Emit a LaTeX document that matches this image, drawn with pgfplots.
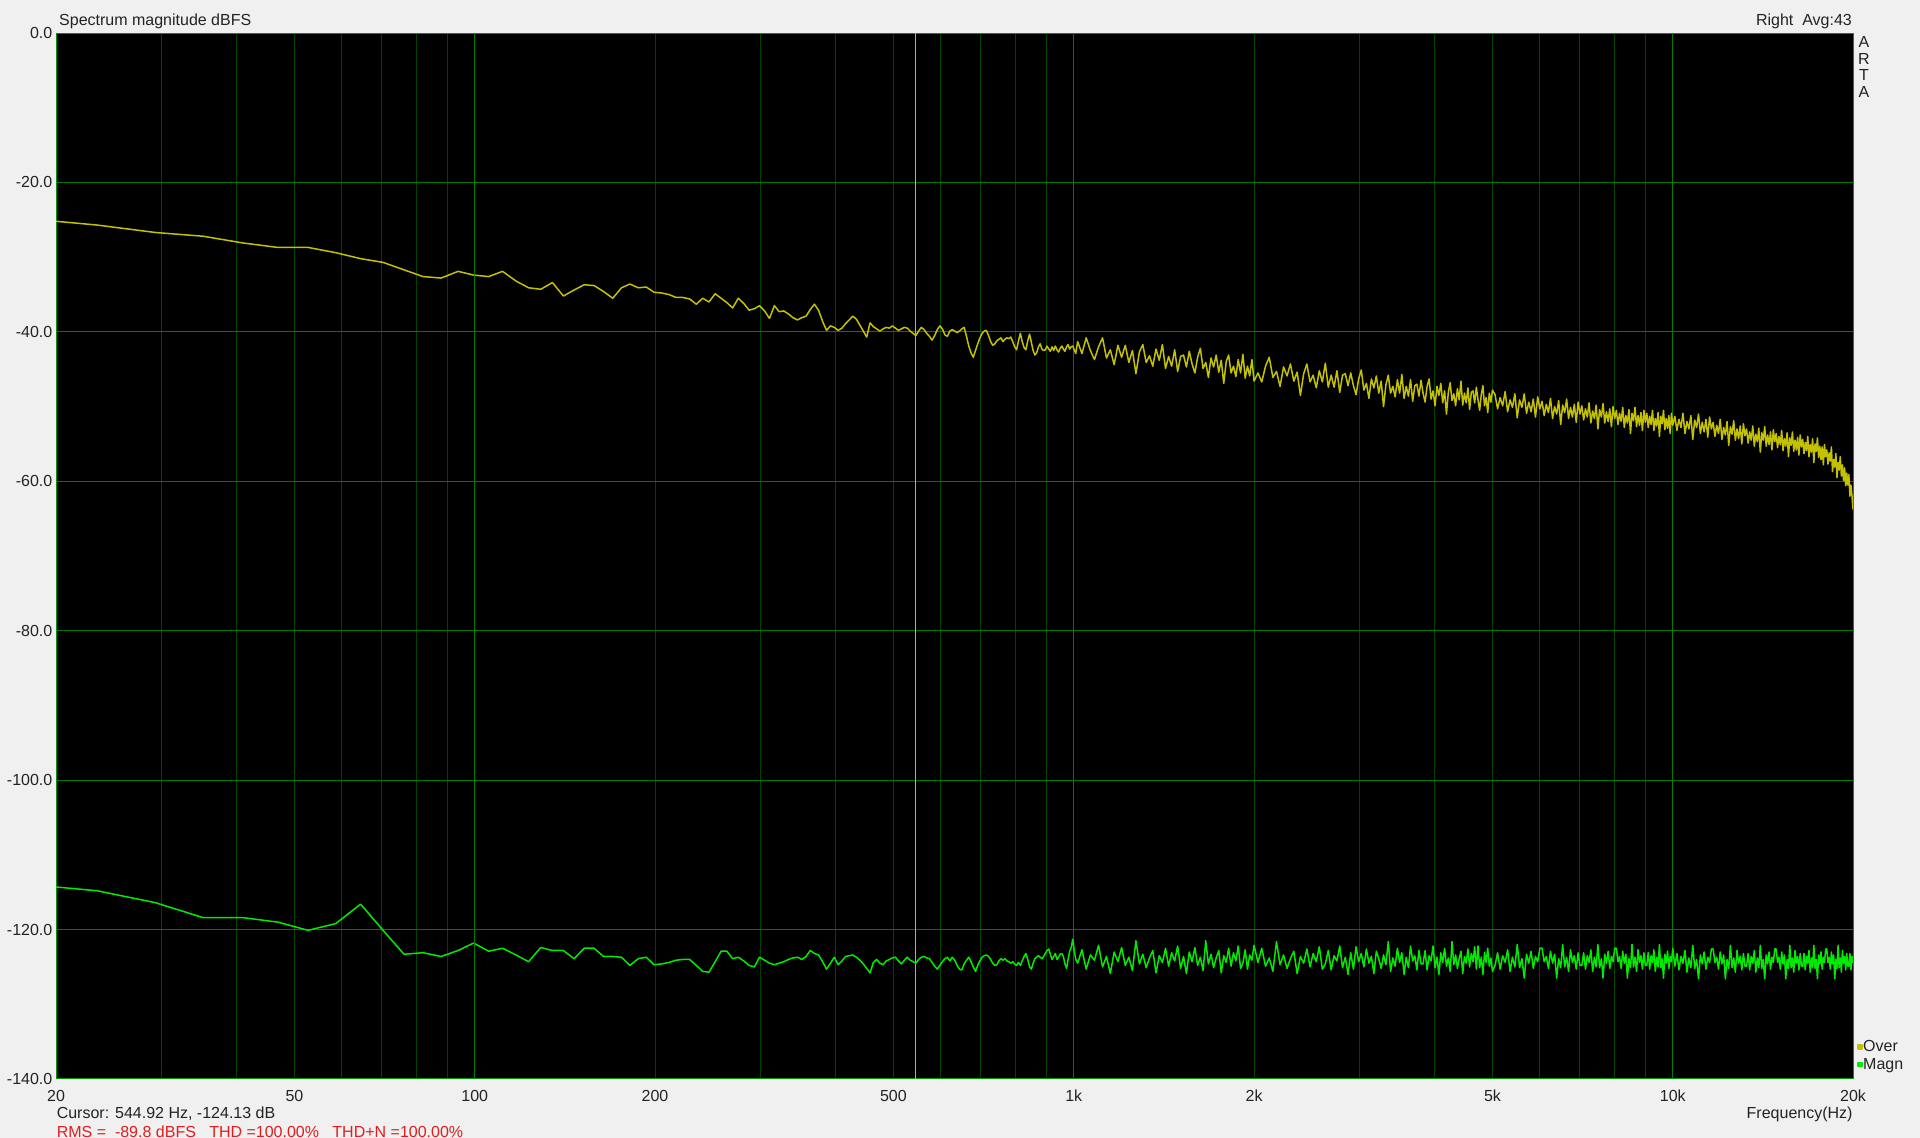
\documentclass[border=0pt]{standalone}
\usepackage{fontspec}
\setmainfont{Liberation Sans}
\usepackage{pgfplots}
\usepackage{pgfplotstable}
\pgfplotsset{compat=1.18}
\definecolor{bgc}{RGB}{240,240,240}
\definecolor{gridbright}{RGB}{0,125,0}
\definecolor{griddim}{RGB}{0,68,0}
\definecolor{framec}{RGB}{0,150,0}
\definecolor{overc}{RGB}{195,193,0}
\definecolor{magnc}{RGB}{0,235,0}
\definecolor{txt}{RGB}{35,35,35}
\definecolor{rmsred}{RGB}{225,30,30}
\pgfplotstableread{
f o m
20 -25.2 -114.3
23.4 -25.7 -114.8
29.3 -26.7 -116.4
35.2 -27.2 -118.4
41.0 -28.1 -118.4
46.9 -28.7 -119.0
52.7 -28.7 -120.1
58.6 -29.4 -119.2
64.5 -30.2 -116.6
70.3 -30.7 -120.1
76.2 -31.7 -123.3
82.0 -32.6 -123.1
87.9 -32.8 -123.6
93.8 -31.9 -122.8
99.6 -32.4 -121.8
105.5 -32.6 -122.9
111.3 -31.9 -122.5
117.2 -33.2 -123.4
123.0 -34.1 -124.3
128.9 -34.3 -122.4
134.8 -33.4 -122.8
140.6 -35.2 -122.8
146.5 -34.4 -123.9
152.3 -33.7 -122.5
158.2 -33.8 -122.5
164.1 -34.6 -123.6
170.0 -35.5 -123.6
175.8 -34.1 -123.7
181.6 -33.6 -124.8
187.5 -34.1 -123.9
193.4 -34.0 -123.7
199.2 -34.7 -124.7
205.1 -34.8 -124.6
210.9 -35.0 -124.4
216.8 -35.4 -124.1
222.7 -35.4 -124.0
228.5 -35.6 -124.0
234.4 -36.3 -124.8
240.2 -35.5 -125.6
246.1 -36.0 -125.7
252.0 -34.9 -124.3
257.8 -35.5 -122.9
263.7 -36.1 -122.9
269.5 -36.8 -123.9
275.4 -35.5 -123.7
281.3 -36.2 -124.2
287.1 -37.1 -124.8
293.0 -36.9 -125.0
298.8 -36.5 -123.7
304.7 -37.2 -124.1
310.5 -38.2 -124.5
316.4 -36.5 -124.7
322.3 -37.3 -124.5
328.1 -37.2 -124.3
334.0 -37.6 -124.0
339.8 -38.1 -123.8
345.7 -38.4 -123.7
351.6 -38.1 -124.0
357.4 -37.9 -123.6
363.3 -37.0 -122.8
369.1 -36.3 -123.2
375.0 -37.1 -123.4
380.9 -38.6 -124.3
386.7 -39.8 -125.3
392.6 -39.2 -124.5
398.4 -39.4 -123.7
404.3 -39.8 -124.7
410.2 -39.5 -124.2
416.0 -38.9 -123.6
421.9 -38.4 -123.5
427.7 -37.9 -123.4
433.6 -38.3 -123.7
439.5 -39.1 -124.1
445.3 -39.9 -124.6
451.2 -40.7 -125.2
457.0 -38.8 -125.8
462.9 -39.3 -124.4
468.8 -39.6 -124.0
474.6 -39.9 -124.5
480.5 -39.6 -124.7
486.3 -39.4 -124.2
492.2 -39.5 -124.0
498.0 -39.2 -123.8
503.9 -39.5 -123.7
509.8 -39.8 -124.2
515.6 -39.6 -124.6
521.5 -39.4 -124.1
527.3 -39.5 -123.7
533.2 -39.9 -124.1
539.1 -40.2 -124.3
545.0 -40.5 -124.5
550.8 -39.9 -124.0
556.6 -39.4 -123.7
562.5 -39.7 -123.6
568.4 -40.2 -123.8
574.2 -40.6 -123.9
580.1 -41.1 -124.4
585.9 -40.5 -124.9
591.8 -39.7 -125.3
597.7 -39.2 -124.8
603.5 -39.6 -124.3
609.4 -40.4 -123.9
615.2 -40.6 -123.7
621.1 -39.9 -124.2
627.0 -39.7 -123.7
632.8 -39.9 -124.1
638.7 -40.1 -124.8
644.5 -39.9 -125.3
650.4 -39.6 -125.4
656.3 -39.4 -124.6
662.1 -40.6 -124.1
668.0 -41.9 -123.7
673.8 -42.8 -124.3
679.7 -43.4 -125.0
685.5 -42.5 -125.6
691.4 -41.6 -124.8
697.3 -40.8 -124.2
703.1 -40.2 -123.7
709.0 -39.9 -123.5
714.8 -39.8 -123.4
720.7 -40.5 -123.6
726.6 -41.3 -124.0
732.4 -41.8 -124.5
738.3 -41.6 -124.8
744.1 -41.2 -124.7
750.0 -41.0 -124.2
755.9 -40.8 -123.9
761.7 -41.3 -124.1
767.6 -41.0 -123.9
773.4 -40.8 -124.2
779.3 -40.9 -124.3
785.2 -40.7 -124.5
791.0 -41.3 -124.3
796.9 -42.0 -124.6
802.7 -42.4 -124.8
808.6 -41.2 -124.4
814.5 -40.2 -124.8
820.3 -41.3 -124.2
826.2 -42.1 -123.6
832.0 -42.4 -123.2
837.9 -41.2 -124.0
843.8 -40.3 -125.0
849.6 -41.4 -125.3
855.5 -42.5 -124.5
861.3 -43.1 -123.9
867.2 -42.8 -123.7
873.0 -42.0 -123.5
878.9 -41.6 -123.7
884.8 -42.3 -123.9
890.6 -42.5 -123.6
896.5 -42.4 -123.2
902.3 -41.9 -122.8
908.2 -42.3 -122.6
914.1 -42.6 -123.3
920.0 -42.0 -124.0
925.8 -42.5 -123.6
931.6 -41.9 -123.2
937.5 -42.4 -124.0
943.4 -42.7 -123.7
949.2 -42.2 -123.3
955.1 -41.9 -123.2
960.9 -42.3 -123.6
966.8 -42.6 -124.6
972.7 -42.0 -125.2
978.5 -41.7 -124.0
984.4 -42.3 -122.9
990.2 -42.0 -122.4
996.1 -41.9 -121.3
1001.9 -42.4 -122.8
1007.8 -42.9 -124.0
1015 -41.3 -124.5
1032 -42.9 -122.7
1049 -40.8 -125.3
1066 -42.5 -123.4
1083 -43.7 -124.1
1100 -42.0 -122.1
1117 -40.8 -125.0
1134 -43.5 -123.6
1151 -42.4 -125.9
1168 -44.4 -123.0
1185 -41.8 -124.3
1202 -43.4 -122.4
1219 -41.8 -124.8
1236 -44.1 -123.7
1253 -42.5 -125.5
1270 -45.6 -121.5
1287 -42.7 -124.6
1304 -41.7 -123.3
1321 -44.1 -125.1
1338 -43.2 -123.8
1355 -44.6 -122.8
1372 -42.3 -125.8
1389 -43.8 -123.5
1406 -41.7 -124.4
1423 -44.9 -122.5
1440 -43.3 -124.9
1457 -44.6 -123.1
1474 -42.4 -124.2
1491 -45.3 -122.2
1508 -43.3 -125.2
1525 -43.1 -123.6
1542 -44.7 -125.9
1559 -42.6 -123.0
1576 -44.3 -124.3
1593 -45.5 -122.4
1610 -43.4 -124.8
1627 -42.2 -123.7
1644 -44.9 -125.5
1661 -44.1 -121.5
1678 -46.1 -124.6
1695 -43.5 -123.3
1712 -44.7 -125.1
1729 -43.1 -123.8
1746 -45.4 -122.8
1763 -43.8 -125.8
1780 -46.9 -123.5
1797 -44.0 -124.4
1814 -43.1 -122.5
1831 -45.5 -124.9
1848 -44.6 -123.1
1865 -46.0 -124.2
1882 -43.7 -122.2
1899 -45.5 -125.2
1916 -43.0 -124.5
1933 -46.2 -122.7
1950 -44.6 -125.3
1967 -45.9 -123.4
1984 -43.7 -124.1
2000 -46.6 -122.1
2030 -45.5 -124.4
2060 -46.7 -122.5
2090 -44.6 -124.9
2120 -43.4 -123.8
2150 -46.1 -125.6
2180 -45.3 -121.6
2210 -47.3 -124.7
2240 -44.7 -123.4
2270 -45.9 -125.2
2300 -44.3 -123.9
2330 -46.6 -122.9
2360 -45.4 -125.9
2390 -48.5 -123.6
2420 -45.6 -124.5
2450 -44.3 -122.6
2480 -46.7 -125.0
2510 -45.8 -123.2
2540 -47.5 -124.3
2570 -45.2 -122.3
2600 -46.7 -125.3
2630 -44.2 -124.6
2660 -47.4 -122.8
2690 -45.8 -125.4
2720 -47.4 -123.5
2750 -45.2 -124.2
2780 -48.1 -122.2
2810 -45.8 -125.1
2840 -45.6 -123.7
2870 -47.2 -126.0
2900 -45.5 -123.1
2930 -47.2 -125.3
2960 -48.4 -122.3
2990 -46.3 -124.3
3020 -45.1 -123.2
3050 -47.8 -125.0
3080 -46.9 -122.6
3110 -48.9 -124.5
3140 -46.3 -123.6
3170 -47.5 -125.9
3200 -45.9 -122.9
3230 -48.2 -123.9
3260 -46.6 -125.2
3290 -50.0 -123.4
3320 -47.1 -124.7
3350 -45.8 -121.6
3380 -48.2 -125.6
3410 -47.3 -123.8
3440 -48.7 -124.9
3470 -46.4 -122.5
3500 -48.2 -124.4
3530 -45.7 -123.1
3560 -48.9 -126.0
3590 -47.3 -123.7
3620 -48.6 -125.1
3650 -46.4 -122.2
3680 -49.3 -124.2
3710 -47.2 -123.5
3740 -47.0 -125.4
3770 -48.6 -122.8
3800 -46.5 -124.6
3830 -48.2 -124.6
3860 -49.4 -122.8
3890 -47.3 -125.4
3920 -46.3 -123.5
3950 -49.0 -124.2
3980 -47.9 -122.2
4010 -49.9 -125.1
4040 -47.3 -123.7
4070 -48.5 -126.0
4100 -46.9 -123.1
4130 -49.5 -124.4
4160 -47.9 -122.5
4190 -51.0 -124.9
4220 -48.1 -123.8
4250 -46.8 -125.6
4280 -49.2 -121.6
4310 -48.3 -124.7
4340 -49.9 -123.4
4370 -47.6 -125.2
4400 -49.1 -123.9
4430 -46.6 -122.9
4460 -49.8 -125.9
4490 -48.2 -123.6
4520 -49.5 -124.5
4550 -47.5 -122.6
4580 -50.4 -125.0
4610 -48.1 -123.2
4640 -47.9 -124.3
4670 -49.5 -122.3
4700 -47.4 -125.3
4730 -49.1 -122.2
4760 -50.5 -125.1
4790 -48.4 -123.7
4820 -47.2 -126.0
4850 -49.9 -123.1
4880 -48.8 -124.4
4910 -50.8 -122.5
4940 -48.2 -124.9
4970 -49.4 -123.8
5000 -47.8 -125.6
5050 -48.4 -124.8
5100 -50.3 -123.1
5150 -48.8 -125.3
5200 -49.9 -123.5
5250 -48.0 -124.4
5300 -50.7 -122.7
5350 -49.1 -125.6
5400 -50.1 -123.7
5450 -48.3 -125.0
5500 -51.5 -122.0
5550 -49.1 -125.1
5600 -50.1 -123.9
5650 -48.3 -126.5
5700 -50.9 -123.3
5750 -49.4 -124.5
5800 -50.7 -122.9
5850 -49.0 -125.2
5900 -51.4 -123.6
5950 -48.7 -124.3
6000 -50.3 -122.5
6050 -49.3 -122.5
6100 -51.2 -124.3
6150 -49.7 -123.6
6200 -50.8 -125.2
6250 -48.9 -122.9
6300 -51.6 -124.5
6350 -50.0 -123.3
6400 -51.0 -126.5
6450 -49.2 -123.9
6500 -52.4 -125.1
6550 -49.8 -122.0
6600 -50.8 -125.0
6650 -49.0 -123.7
6700 -51.6 -125.6
6750 -50.1 -122.7
6800 -51.4 -124.4
6850 -49.7 -123.5
6900 -52.1 -125.3
6950 -49.4 -123.1
7000 -51.0 -124.8
7050 -49.9 -124.8
7100 -51.8 -123.1
7150 -50.3 -125.3
7200 -51.4 -123.5
7250 -49.5 -124.4
7300 -52.2 -122.7
7350 -50.6 -125.6
7400 -51.6 -123.7
7450 -49.8 -125.0
7500 -53.0 -122.0
7550 -50.4 -125.1
7600 -51.4 -123.9
7650 -49.6 -126.5
7700 -52.2 -123.3
7750 -50.7 -124.5
7800 -52.0 -122.9
7850 -50.3 -125.2
7900 -52.7 -123.6
7950 -50.0 -124.3
8000 -51.6 -122.5
8050 -50.5 -122.5
8100 -52.4 -124.3
8150 -50.9 -123.6
8200 -52.0 -125.2
8250 -50.1 -122.9
8300 -52.8 -124.5
8350 -51.2 -123.3
8400 -52.2 -126.5
8450 -50.4 -123.9
8500 -53.6 -125.1
8550 -50.9 -122.0
8600 -51.9 -125.0
8650 -50.1 -123.7
8700 -52.7 -125.6
8750 -51.2 -122.7
8800 -52.5 -124.4
8850 -50.8 -123.5
8900 -53.2 -125.3
8950 -50.5 -123.1
9000 -52.1 -124.8
9050 -50.9 -124.8
9100 -52.8 -123.1
9150 -51.3 -125.3
9200 -52.4 -123.5
9250 -50.5 -124.4
9300 -53.2 -122.7
9350 -51.6 -125.6
9400 -52.6 -123.7
9450 -50.8 -125.0
9500 -54.0 -122.0
9550 -51.3 -125.1
9600 -52.3 -123.9
9650 -50.5 -126.5
9700 -53.1 -123.3
9750 -51.6 -124.5
9800 -52.9 -122.9
9850 -51.2 -125.2
9900 -53.6 -123.6
9950 -50.9 -124.3
10000 -52.5 -122.5
10080 -51.3 -124.9
10160 -53.2 -123.2
10240 -51.7 -125.4
10320 -52.8 -123.6
10400 -50.9 -124.5
10480 -53.6 -122.8
10560 -52.0 -125.7
10640 -53.0 -123.8
10720 -51.2 -125.1
10800 -54.4 -122.1
10880 -51.8 -125.2
10960 -52.8 -124.0
11040 -51.0 -126.6
11120 -53.6 -123.4
11200 -52.1 -124.6
11280 -53.4 -123.0
11360 -51.7 -125.3
11440 -54.1 -123.7
11520 -51.4 -124.4
11600 -53.0 -122.6
11680 -52.1 -122.6
11760 -54.0 -124.4
11840 -52.5 -123.7
11920 -53.6 -125.3
12000 -51.7 -123.0
12080 -54.4 -124.6
12160 -52.8 -123.4
12240 -53.8 -126.6
12320 -52.0 -124.0
12400 -55.2 -125.2
12480 -52.7 -122.1
12560 -53.7 -125.1
12640 -51.9 -123.8
12720 -54.5 -125.7
12800 -53.0 -122.8
12880 -54.3 -124.5
12960 -52.6 -123.6
13040 -55.0 -125.4
13120 -52.3 -123.2
13200 -53.9 -124.9
13280 -53.0 -124.9
13360 -54.9 -123.2
13440 -53.4 -125.4
13520 -54.5 -123.6
13600 -52.6 -124.5
13680 -55.3 -122.8
13760 -53.7 -125.7
13840 -54.7 -123.8
13920 -52.9 -125.1
14000 -56.1 -122.1
14080 -53.5 -125.2
14160 -54.5 -124.0
14240 -52.7 -126.6
14320 -55.3 -123.4
14400 -53.8 -124.6
14480 -55.1 -123.0
14560 -53.4 -125.3
14640 -55.8 -123.7
14720 -53.1 -124.4
14800 -54.7 -122.6
14880 -53.6 -122.6
14960 -55.5 -124.4
15040 -54.0 -123.7
15120 -55.1 -125.3
15200 -53.2 -123.0
15280 -55.9 -124.6
15360 -54.3 -123.4
15440 -55.3 -126.6
15520 -53.5 -124.0
15600 -56.7 -125.2
15680 -54.2 -122.1
15760 -55.2 -125.1
15840 -53.4 -123.8
15920 -56.0 -125.7
16000 -54.5 -122.8
16080 -55.8 -124.5
16160 -54.1 -123.6
16240 -56.5 -125.4
16320 -53.8 -123.2
16400 -55.4 -124.9
16480 -54.4 -124.9
16560 -56.3 -123.2
16640 -54.8 -125.4
16720 -55.9 -123.6
16800 -54.0 -124.5
16880 -56.7 -122.8
16960 -55.1 -125.7
17040 -56.1 -123.8
17120 -54.3 -125.1
17200 -57.5 -122.1
17280 -55.0 -125.2
17360 -56.0 -124.0
17440 -54.2 -126.6
17520 -56.8 -123.4
17600 -55.3 -124.6
17680 -57.1 -123.0
17760 -55.4 -125.3
17840 -57.8 -123.7
17920 -55.1 -124.4
18000 -56.7 -122.6
18080 -55.8 -122.6
18160 -57.7 -124.4
18240 -56.2 -123.7
18320 -57.3 -125.3
18400 -55.4 -123.0
18480 -58.7 -124.6
18560 -57.1 -123.4
18640 -58.1 -126.6
18720 -56.3 -124.0
18800 -59.5 -125.2
18880 -57.5 -122.1
18960 -58.5 -125.1
19040 -56.7 -123.8
19120 -59.3 -125.7
19200 -57.8 -122.8
19280 -59.9 -124.5
19360 -58.2 -123.6
19440 -60.6 -125.4
19520 -58.9 -123.2
19600 -60.5 -124.9
19680 -59.1 -124.9
19760 -62.0 -123.2
19840 -60.5 -125.4
19920 -62.0 -123.6
20000 -63.8 -124.5
}\spec
\begin{document}
\begin{tikzpicture}[x=1pt,y=1pt]
\fill[bgc] (0,0) rectangle (1920,1138);
\begin{axis}[
  at={(56pt,59pt)}, anchor=south west,
  width=1797pt, height=1046pt, scale only axis,
  xmode=log, xmin=20, xmax=20000, ymin=-140, ymax=0,
  axis background/.style={fill=black},
  axis line style={draw=framec, line width=1pt},
  xtick={20,50,100,200,500,1000,2000,5000,10000,20000},
  xticklabels={20,50,100,200,500,1k,2k,5k,10k,20k},
  minor xtick={30,40,60,70,80,90,300,400,600,700,800,900,3000,4000,6000,7000,8000,9000},
  ytick={-140,-120,-100,-80,-60,-40,-20,0},
  yticklabels={-140.0,-120.0,-100.0,-80.0,-60.0,-40.0,-20.0,0.0},
  xmajorgrids, xminorgrids, ymajorgrids,
  grid style={draw=griddim, line width=1pt},
  major grid style={draw=griddim, line width=1pt},
  minor grid style={draw=griddim, line width=1pt},
  major x grid style={draw=griddim, line width=1pt},
  minor x grid style={draw=griddim, line width=1pt},
  major y grid style={draw=gridbright, line width=1pt},
  major tick length=0pt, minor tick length=0pt,
  ticklabel style={font=\fontsize{16}{18}\selectfont, text=txt},
  xticklabel style={inner sep=0pt, anchor=north, yshift=-11pt},
  yticklabel style={inner sep=0pt, anchor=east, xshift=-3.5pt},
  legend style={at={(rel axis cs:1,0)}, anchor=south west, xshift=4pt, yshift=7.5pt,
    draw=none, fill=none, inner sep=0pt, outer sep=0pt,
    font=\fontsize{16}{16}\selectfont, text=txt, row sep=4pt,
    nodes={inner sep=0.6pt}},
  legend cell align=left,
  legend image code/.code={\fill[#1] (0pt,-2pt) rectangle (4pt,2pt);},
]
\addplot[gridbright, line width=1.2pt, forget plot] coordinates {(1000,-140) (1000,0)};
\addplot[gridbright, line width=1.2pt, forget plot] coordinates {(10000,-140) (10000,0)};
\addplot[overc, line width=1pt, forget plot] coordinates {(544.92,-140) (544.92,0)};
\addplot[overc, line width=1.5pt, line join=round] table[x=f, y=o] {\spec};
\addlegendentry{Over}
\addplot[magnc, line width=1.5pt, line join=round] table[x=f, y=m] {\spec};
\addlegendentry{Magn}
\addplot[gridbright, line width=1.4pt, forget plot] coordinates {(100,-140) (100,0)};
\end{axis}
\begin{scope}[font=\fontsize{16}{18}\selectfont, text=txt]
\node[anchor=base west, inner sep=0pt] at (59,1112.5) {Spectrum magnitude dBFS};
\node[anchor=base east, inner sep=0pt] at (1852,1112.5) {Right\ \ Avg:43};
\node[anchor=base, inner sep=0pt] at (1864,1090.5) {A};
\node[anchor=base, inner sep=0pt] at (1864,1073.8) {R};
\node[anchor=base, inner sep=0pt] at (1864,1057.1) {T};
\node[anchor=base, inner sep=0pt] at (1864,1040.4) {A};
\node[anchor=base east, inner sep=0pt] at (1852.7,19.5) {Frequency(Hz)};
\node[anchor=base west, inner sep=0pt] at (56.6,19.5) {Cursor: 544.92 Hz, -124.13 dB};
\node[anchor=base west, inner sep=0pt, text=rmsred] at (56.6,0.5) {RMS =\ \ -89.8 dBFS\ \ \ THD =100.00\%\ \ \ THD+N =100.00\%};
\end{scope}
\pgfresetboundingbox
\path[use as bounding box] (0,0) rectangle (1920,1138);
\end{tikzpicture}
\end{document}
